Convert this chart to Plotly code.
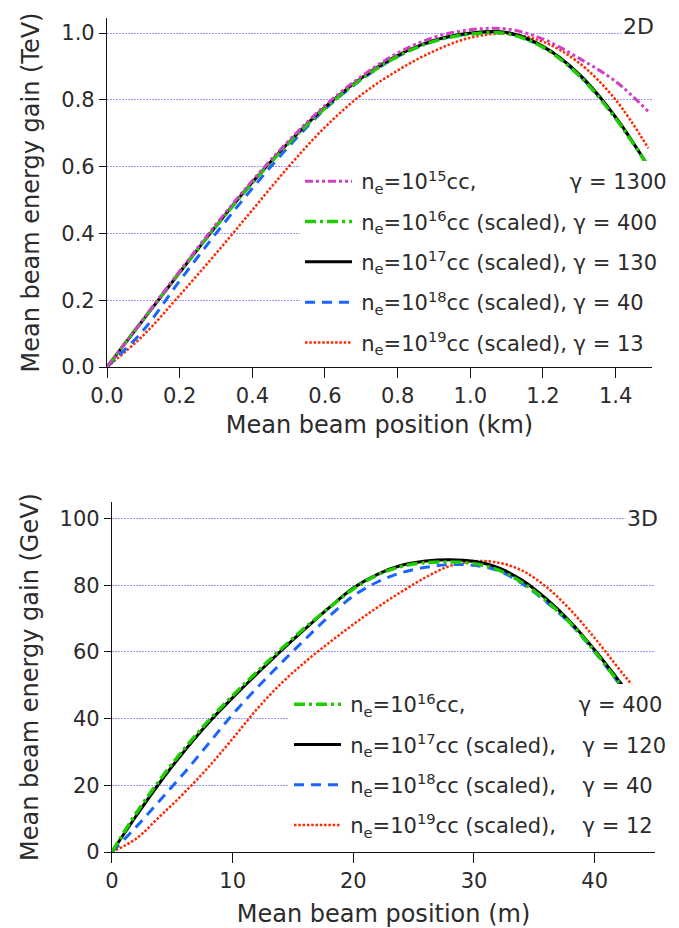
import plotly.graph_objects as go

# ---------------- data: 2D (top) ----------------
x2d = [0, 0.1, 0.2, 0.3, 0.4, 0.5, 0.6, 0.7, 0.8, 0.9, 1.0, 1.1, 1.2, 1.3, 1.4, 1.49]
y2d_n15 = [0, 0.144, 0.287, 0.427, 0.558, 0.677, 0.783, 0.870, 0.940, 0.987, 1.010, 1.012, 0.982, 0.924, 0.855, 0.765]
y2d_n16 = [0, 0.143, 0.284, 0.421, 0.551, 0.670, 0.775, 0.862, 0.930, 0.975, 0.997, 0.998, 0.957, 0.872, 0.744, 0.600]
y2d_n17 = [0, 0.142, 0.283, 0.422, 0.553, 0.672, 0.778, 0.865, 0.933, 0.978, 1.000, 1.002, 0.960, 0.876, 0.748, 0.600]
y2d_n18 = [0, 0.110, 0.258, 0.400, 0.535, 0.660, 0.772, 0.860, 0.930, 0.976, 0.998, 1.000, 0.958, 0.873, 0.746, 0.600]
y2d_n19 = [0, 0.095, 0.215, 0.340, 0.470, 0.600, 0.718, 0.815, 0.888, 0.946, 0.986, 0.998, 0.974, 0.910, 0.800, 0.655]

labels_2d = [
    "\u2009n<sub>e</sub>=10<sup>15</sup>cc," + "\u00a0" * 14 + "γ = 1300",
    "\u2009n<sub>e</sub>=10<sup>16</sup>cc (scaled), γ = 400",
    "\u2009n<sub>e</sub>=10<sup>17</sup>cc (scaled), γ = 130",
    "\u2009n<sub>e</sub>=10<sup>18</sup>cc (scaled), γ = 40",
    "\u2009n<sub>e</sub>=10<sup>19</sup>cc (scaled), γ = 13",
]

# ---------------- data: 3D (bottom) ----------------
x3d = [0, 2, 4, 6, 8, 10, 12, 14, 16, 18, 20, 22, 24, 26, 28, 30, 32, 34, 36, 38, 40, 42, 43]
y3d_n16 = [0, 11.6, 21.8, 31.0, 39.4, 46.9, 54.0, 60.8, 67.3, 73.3, 78.9, 83.1, 85.7, 86.8, 87.0, 86.5, 84.6, 80.8, 75.3, 68.6, 60.2, 50.8, 45.8]
y3d_n17 = [0, 10.8, 21.0, 30.3, 38.8, 46.3, 53.4, 60.3, 66.9, 73.3, 79.2, 83.3, 86.0, 87.3, 87.7, 87.2, 85.3, 81.5, 75.9, 69.0, 60.6, 51.4, 46.5]
y3d_n18 = [0, 7.5, 15.6, 23.8, 32.5, 41.3, 49.2, 56.6, 63.8, 70.7, 76.8, 81.0, 83.8, 85.4, 86.2, 86.0, 84.4, 80.5, 75.0, 68.4, 60.0, 50.6, 45.6]
x3d_n19 = [0, 2, 4, 6, 8, 10, 12, 14, 16, 18, 20, 22, 24, 26, 28, 30, 32, 34, 36, 38, 40, 42, 43, 44]
y3d_n19 = [0, 4.0, 10.8, 17.8, 25.5, 34.0, 42.8, 50.5, 57.0, 62.8, 68.3, 73.4, 78.1, 82.4, 85.8, 87.2, 86.8, 84.4, 79.5, 72.6, 64.2, 55.0, 50.5, 45.5]

labels_3d = [
    "\u2009n<sub>e</sub>=10<sup>16</sup>cc," + "\u00a0" * 17 + "γ = 400",
    "\u2009n<sub>e</sub>=10<sup>17</sup>cc (scaled)," + "\u00a0" * 4 + "γ = 120",
    "\u2009n<sub>e</sub>=10<sup>18</sup>cc (scaled)," + "\u00a0" * 4 + "γ = 40",
    "\u2009n<sub>e</sub>=10<sup>19</sup>cc (scaled)," + "\u00a0" * 4 + "γ = 12",
]

# ---------------- styles ----------------
MAG = "#d23fc4"
GRN = "#1fcc00"
BLK = "#000000"
BLU = "#1a64ff"
RED = "#ff2a00"
DASH_MAG = "8px,3px,3px,3px,3px,3px"
DASH_GRN = "11px,4px,3px,4px"
DASH_BLU = "10px,7px"
DASH_RED = "2.5px,1.8px"

FONT = "DejaVu Sans"
TXT = "#2b2b2b"

fig = go.Figure()

top_series = [
    (x2d, y2d_n15, MAG, DASH_MAG, 3),
    (x2d, y2d_n16, GRN, DASH_GRN, 3.5),
    (x2d, y2d_n17, BLK, "solid", 3),
    (x2d, y2d_n18, BLU, DASH_BLU, 3),
    (x2d, y2d_n19, RED, DASH_RED, 2.5),
]
# draw order: red, blue, black, green, magenta on top
for i in [4, 3, 2, 1, 0]:
    xs, ys, c, d, w = top_series[i]
    fig.add_trace(go.Scatter(
        x=xs, y=ys, mode="lines", name=labels_2d[i],
        line=dict(color=c, dash=d, width=w, shape="spline", smoothing=1.0),
        xaxis="x", yaxis="y", legend="legend", legendgroup=f"t{i}",
        legendrank=i + 1,
    ))

bot_series = [
    (x3d, y3d_n16, GRN, DASH_GRN, 3.5),
    (x3d, y3d_n17, BLK, "solid", 3),
    (x3d, y3d_n18, BLU, DASH_BLU, 3),
    (x3d_n19, y3d_n19, RED, DASH_RED, 2.5),
]
for i in [3, 2, 1, 0]:
    xs, ys, c, d, w = bot_series[i]
    fig.add_trace(go.Scatter(
        x=xs, y=ys, mode="lines", name=labels_3d[i],
        line=dict(color=c, dash=d, width=w, shape="spline", smoothing=1.0),
        xaxis="x2", yaxis="y2", legend="legend2", legendgroup=f"b{i}",
        legendrank=i + 1,
    ))

axis_common = dict(
    showline=True, linecolor="#111", linewidth=1.2,
    ticks="outside", tickwidth=1.2, tickcolor="#111",
    zeroline=False, automargin=False,
    tickfont=dict(family=FONT, size=21, color=TXT),
)
grid = dict(showgrid=True, gridcolor="#9999ff", gridwidth=1, griddash="2px,1px")

fig.update_layout(
    width=671, height=920,
    margin=dict(l=99, r=24, t=10, b=76, autoexpand=False),
    paper_bgcolor="white", plot_bgcolor="white",
    font=dict(family=FONT, color=TXT),
    xaxis=dict(domain=[0, 0.9945], range=[0, 1.5], dtick=0.2, tick0=0, tickformat=".1f",
               anchor="y", showgrid=False, ticklen=10,
               title=dict(text="Mean beam position (km)", font=dict(size=24, color=TXT), standoff=8),
               **axis_common),
    yaxis=dict(domain=[0.5815, 1], range=[0, 1.045], dtick=0.2, tick0=0, tickformat=".1f",
               anchor="x", ticklen=7,
               title=dict(text="Mean beam energy gain (TeV)", font=dict(size=24, color=TXT), standoff=14),
               **grid, **axis_common),
    xaxis2=dict(domain=[0.0091, 1], range=[0, 45], dtick=10, tick0=0,
                anchor="y2", showgrid=False, ticklen=10,
                title=dict(text="Mean beam position (m)", font=dict(size=24, color=TXT), standoff=18),
                **axis_common),
    yaxis2=dict(domain=[0, 0.4197], range=[0, 105], dtick=20, tick0=0,
                anchor="x2", ticklen=7,
                title=dict(text="Mean beam energy gain (GeV)", font=dict(size=24, color=TXT), standoff=14),
                **grid, **axis_common),
    legend=dict(x=0.3522, y=0.8284, xanchor="left", yanchor="top", bgcolor="white",
                borderwidth=0, font=dict(family=FONT, size=21, color=TXT),
                tracegroupgap=10, itemwidth=47, traceorder="grouped"),
    legend2=dict(x=0.3321, y=0.2014, xanchor="left", yanchor="top", bgcolor="white",
                 borderwidth=0, font=dict(family=FONT, size=21, color=TXT),
                 tracegroupgap=10, itemwidth=47, traceorder="grouped"),
    showlegend=True,
    annotations=[
        dict(text="2D", xref="x domain", yref="y", x=1.0, y=1.02, xanchor="right", yanchor="middle",
             xshift=4, showarrow=False, bgcolor="white", font=dict(family=FONT, size=22, color=TXT)),
        dict(text="3D", xref="x2 domain", yref="y2", x=1.0, y=100, xanchor="right", yanchor="middle",
             xshift=5, showarrow=False, bgcolor="white", font=dict(family=FONT, size=22, color=TXT)),
    ],
)

fig.write_html("out.html")
